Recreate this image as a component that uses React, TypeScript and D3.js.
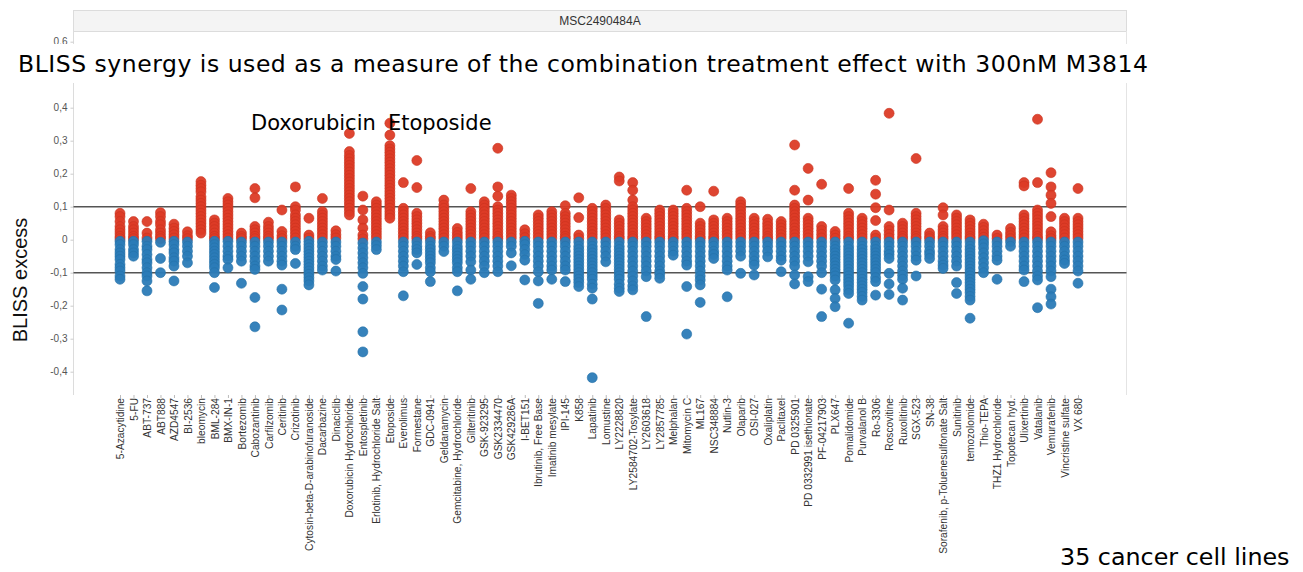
import * as d3 from "d3";
import React, { useEffect, useRef } from "react";

// drug names along the x axis
const drugs = [
  "5-Azacytidine", "5-FU", "ABT-737", "ABT888", "AZD4547", "BI-2536", "bleomycin", "BML-284", "BMX-IN-1",
  "Bortezomib", "Cabozantinib", "Carfilzomib", "Ceritinib", "Crizotinib", "Cytosin-beta-D-arabinofuranoside",
  "Dacarbazine", "Dinaciclib", "Doxorubicin Hydrochloride", "Entospletinib", "Erlotinib, Hydrochloride Salt",
  "Etoposide", "Everolimus", "Formestane", "GDC-0941", "Geldanamycin", "Gemcitabine, Hydrochloride",
  "Gilteritinib", "GSK-923295", "GSK2334470", "GSK429286A", "I-BET151", "Ibrutinib, Free Base",
  "Imatinib mesylate", "IPI-145", "K858", "Lapatinib", "Lomustine", "LY2228820", "LY2584702-Tosylate",
  "LY2603618", "LY2857785", "Melphalan", "Mitomycin C", "ML167", "NSC348884", "Nutlin-3", "Olaparib",
  "OSI-027", "Oxaliplatin", "Paclitaxel", "PD 0325901", "PD 0332991 isethionate", "PF-04217903", "PLX647",
  "Pomalidomide", "Purvalanol B", "Ro-3306", "Roscovitine", "Ruxolitinib", "SGX-523", "SN-38",
  "Sorafenib, p-Toluenesulfonate Salt", "Sunitinib", "temozolomide", "Thio-TEPA", "THZ1 Hydrochloride",
  "Topotecan hyd.", "Ulixertinib", "Vatalanib", "Vemurafenib", "Vincristine sulfate", "VX 680",
];

// BLISS excess per cell line, one list per drug
const bliss: number[][] = [
  [0.08, 0.07, 0.055, 0.04, 0.03, 0.02, 0.01, 0.003, -0.005, -0.015, -0.03, -0.04, -0.05, -0.06, -0.075, -0.085, -0.095, -0.11, -0.12],
  [0.055, 0.04, 0.03, 0.02, 0.01, 0.003, -0.005, -0.015, -0.03, -0.04, -0.05],
  [0.055, 0.02, 0.005, -0.005, -0.02, -0.03, -0.045, -0.06, -0.07, -0.085, -0.1, -0.11, -0.125, -0.155],
  [0.082, 0.07, 0.055, 0.045, 0.03, 0.02, 0.01, 0.003, -0.008, -0.057, -0.1],
  [0.047, 0.035, 0.025, 0.015, 0.005, -0.005, -0.015, -0.03, -0.04, -0.055, -0.065, -0.08, -0.125],
  [0.024, 0.012, 0.003, -0.007, -0.02, -0.035, -0.05, -0.07],
  [0.176, 0.165, 0.155, 0.145, 0.13, 0.12, 0.11, 0.1, 0.09, 0.08, 0.07, 0.06, 0.05, 0.04, 0.03, 0.02],
  [0.06, 0.05, 0.04, 0.03, 0.02, 0.01, 0.003, -0.005, -0.015, -0.025, -0.035, -0.045, -0.055, -0.065, -0.075, -0.085, -0.1, -0.145],
  [0.125, 0.115, 0.105, 0.095, 0.085, 0.075, 0.065, 0.055, 0.045, 0.035, 0.025, 0.015, 0.005, -0.005, -0.02, -0.035, -0.05, -0.06, -0.085],
  [0.02, 0.01, 0.003, -0.007, -0.02, -0.035, -0.05, -0.065, -0.132],
  [0.155, 0.127, 0.04, 0.03, 0.02, 0.01, 0.003, -0.007, -0.02, -0.035, -0.05, -0.065, -0.08, -0.09, -0.175, -0.264],
  [0.053, 0.04, 0.03, 0.02, 0.01, 0.003, -0.007, -0.02, -0.035, -0.05, -0.065],
  [0.09, 0.025, 0.012, 0.003, -0.007, -0.02, -0.035, -0.05, -0.065, -0.077, -0.15, -0.213],
  [0.16, 0.1, 0.09, 0.075, 0.065, 0.055, 0.045, 0.035, 0.025, 0.015, 0.005, -0.007, -0.02, -0.03, -0.072],
  [0.065, 0.014, 0.005, -0.005, -0.015, -0.025, -0.035, -0.045, -0.055, -0.065, -0.075, -0.085, -0.095, -0.105, -0.115, -0.125, -0.137],
  [0.125, 0.085, 0.075, 0.065, 0.055, 0.045, 0.035, 0.025, 0.015, 0.005, -0.007, -0.02, -0.035, -0.05, -0.065, -0.08, -0.092],
  [0.027, 0.015, 0.005, -0.007, -0.02, -0.035, -0.05, -0.06, -0.095],
  [0.322, 0.267, 0.255, 0.245, 0.235, 0.225, 0.215, 0.205, 0.195, 0.185, 0.175, 0.165, 0.155, 0.145, 0.135, 0.125, 0.115, 0.105, 0.095, 0.085, 0.075],
  [0.132, 0.09, 0.06, 0.035, 0.014, 0.003, -0.01, -0.025, -0.04, -0.055, -0.07, -0.085, -0.102, -0.142, -0.18, -0.279, -0.34],
  [0.115, 0.105, 0.095, 0.085, 0.075, 0.065, 0.055, 0.045, 0.035, 0.025, 0.015, 0.005, -0.007, -0.018, -0.03],
  [0.353, 0.317, 0.285, 0.275, 0.265, 0.255, 0.245, 0.235, 0.225, 0.215, 0.205, 0.195, 0.185, 0.175, 0.165, 0.155, 0.145, 0.135, 0.125, 0.115, 0.105, 0.095, 0.085, 0.075, 0.065],
  [0.173, 0.095, 0.085, 0.075, 0.065, 0.055, 0.045, 0.035, 0.025, 0.015, 0.005, -0.007, -0.02, -0.035, -0.05, -0.065, -0.08, -0.097, -0.17],
  [0.24, 0.158, 0.08, 0.07, 0.06, 0.05, 0.04, 0.03, 0.02, 0.01, 0.003, -0.007, -0.02, -0.03, -0.04, -0.075],
  [0.021, 0.01, 0.003, -0.007, -0.02, -0.03, -0.04, -0.05, -0.06, -0.07, -0.085, -0.097, -0.127],
  [0.12, 0.105, 0.095, 0.085, 0.075, 0.065, 0.055, 0.045, 0.035, 0.025, 0.015, 0.005, -0.007, -0.02, -0.036],
  [0.034, 0.022, 0.012, 0.003, -0.007, -0.02, -0.03, -0.04, -0.05, -0.06, -0.07, -0.085, -0.097, -0.155],
  [0.155, 0.085, 0.075, 0.065, 0.055, 0.045, 0.035, 0.025, 0.015, 0.005, -0.007, -0.02, -0.035, -0.05, -0.067, -0.092, -0.12],
  [0.115, 0.105, 0.095, 0.085, 0.075, 0.065, 0.055, 0.045, 0.035, 0.025, 0.015, 0.005, -0.007, -0.02, -0.035, -0.05, -0.065, -0.08, -0.1],
  [0.277, 0.16, 0.132, 0.1, 0.09, 0.08, 0.07, 0.06, 0.05, 0.04, 0.03, 0.02, 0.01, 0.003, -0.007, -0.02, -0.035, -0.05, -0.065, -0.08, -0.097],
  [0.135, 0.125, 0.115, 0.105, 0.095, 0.085, 0.075, 0.065, 0.055, 0.045, 0.035, 0.025, 0.015, 0.005, -0.007, -0.02, -0.04, -0.079],
  [0.03, 0.018, 0.006, -0.005, -0.015, -0.03, -0.045, -0.062, -0.122],
  [0.075, 0.065, 0.055, 0.045, 0.035, 0.025, 0.015, 0.005, -0.007, -0.02, -0.035, -0.05, -0.065, -0.08, -0.097, -0.125, -0.193],
  [0.085, 0.075, 0.065, 0.055, 0.045, 0.035, 0.025, 0.015, 0.005, -0.007, -0.02, -0.035, -0.05, -0.065, -0.08, -0.092, -0.12],
  [0.103, 0.08, 0.07, 0.06, 0.05, 0.04, 0.03, 0.02, 0.01, 0.003, -0.007, -0.02, -0.035, -0.05, -0.065, -0.08, -0.092, -0.127],
  [0.127, 0.067, 0.014, 0.004, -0.007, -0.02, -0.03, -0.04, -0.05, -0.06, -0.07, -0.08, -0.09, -0.1, -0.11, -0.12, -0.13, -0.142],
  [0.095, 0.085, 0.075, 0.065, 0.055, 0.045, 0.035, 0.025, 0.015, 0.005, -0.007, -0.02, -0.03, -0.04, -0.05, -0.06, -0.07, -0.08, -0.09, -0.1, -0.11, -0.12, -0.135, -0.147, -0.18, -0.418],
  [0.105, 0.095, 0.085, 0.075, 0.065, 0.055, 0.045, 0.035, 0.025, 0.015, 0.005, -0.007, -0.02, -0.035, -0.05, -0.067],
  [0.19, 0.178, 0.06, 0.05, 0.04, 0.03, 0.02, 0.01, 0.003, -0.007, -0.02, -0.03, -0.04, -0.05, -0.06, -0.07, -0.08, -0.09, -0.1, -0.11, -0.12, -0.135, -0.147, -0.157],
  [0.173, 0.15, 0.12, 0.1, 0.09, 0.08, 0.07, 0.06, 0.05, 0.04, 0.03, 0.02, 0.01, 0.003, -0.007, -0.02, -0.035, -0.05, -0.065, -0.08, -0.095, -0.11, -0.125, -0.14, -0.152],
  [0.065, 0.055, 0.045, 0.035, 0.025, 0.015, 0.005, -0.007, -0.02, -0.035, -0.05, -0.065, -0.08, -0.095, -0.112, -0.233],
  [0.09, 0.08, 0.07, 0.06, 0.05, 0.04, 0.03, 0.02, 0.01, 0.003, -0.007, -0.02, -0.035, -0.05, -0.065, -0.08, -0.095, -0.105, -0.117],
  [0.09, 0.08, 0.07, 0.06, 0.05, 0.04, 0.03, 0.02, 0.01, 0.003, -0.007, -0.02, -0.035, -0.047],
  [0.15, 0.095, 0.085, 0.075, 0.065, 0.055, 0.045, 0.035, 0.025, 0.015, 0.005, -0.007, -0.02, -0.035, -0.05, -0.065, -0.077, -0.142, -0.286],
  [0.1, 0.05, 0.04, 0.03, 0.02, 0.01, 0.003, -0.007, -0.02, -0.035, -0.05, -0.065, -0.08, -0.095, -0.11, -0.122, -0.137, -0.19],
  [0.147, 0.06, 0.05, 0.04, 0.03, 0.02, 0.01, 0.003, -0.007, -0.02, -0.035, -0.045, -0.057],
  [0.065, 0.055, 0.045, 0.035, 0.025, 0.015, 0.005, -0.007, -0.02, -0.035, -0.05, -0.065, -0.08, -0.092, -0.173],
  [0.115, 0.105, 0.095, 0.085, 0.075, 0.065, 0.055, 0.045, 0.035, 0.025, 0.015, 0.005, -0.007, -0.02, -0.035, -0.05, -0.102],
  [0.065, 0.055, 0.045, 0.035, 0.025, 0.015, 0.005, -0.007, -0.02, -0.035, -0.05, -0.065, -0.077, -0.107],
  [0.062, 0.05, 0.04, 0.03, 0.02, 0.01, 0.003, -0.007, -0.02, -0.035, -0.052],
  [0.055, 0.045, 0.035, 0.025, 0.015, 0.005, -0.007, -0.02, -0.035, -0.05, -0.062, -0.097],
  [0.287, 0.15, 0.105, 0.095, 0.085, 0.075, 0.065, 0.055, 0.045, 0.035, 0.025, 0.015, 0.005, -0.007, -0.02, -0.035, -0.05, -0.065, -0.08, -0.107, -0.134],
  [0.216, 0.12, 0.065, 0.055, 0.045, 0.035, 0.025, 0.015, 0.005, -0.007, -0.02, -0.035, -0.05, -0.067, -0.112, -0.127],
  [0.168, 0.04, 0.028, 0.016, 0.005, -0.007, -0.02, -0.035, -0.05, -0.065, -0.08, -0.1, -0.15, -0.233],
  [0.025, 0.014, 0.004, -0.007, -0.02, -0.03, -0.04, -0.05, -0.06, -0.07, -0.08, -0.09, -0.1, -0.11, -0.122, -0.152, -0.178, -0.203],
  [0.155, 0.08, 0.07, 0.06, 0.05, 0.04, 0.03, 0.02, 0.01, 0.003, -0.007, -0.02, -0.03, -0.04, -0.05, -0.06, -0.07, -0.08, -0.09, -0.1, -0.11, -0.12, -0.13, -0.14, -0.152, -0.163, -0.253],
  [0.065, 0.055, 0.045, 0.035, 0.025, 0.015, 0.005, -0.007, -0.02, -0.03, -0.04, -0.05, -0.06, -0.07, -0.08, -0.09, -0.1, -0.11, -0.12, -0.13, -0.14, -0.15, -0.16, -0.172, -0.183],
  [0.18, 0.138, 0.097, 0.058, 0.014, 0.004, -0.007, -0.02, -0.03, -0.04, -0.05, -0.06, -0.07, -0.08, -0.09, -0.1, -0.115, -0.127, -0.168],
  [0.383, 0.09, 0.04, 0.028, 0.016, 0.005, -0.007, -0.02, -0.035, -0.045, -0.057, -0.102, -0.134, -0.166],
  [0.05, 0.04, 0.03, 0.02, 0.01, 0.003, -0.007, -0.02, -0.035, -0.05, -0.065, -0.08, -0.095, -0.108, -0.12, -0.147, -0.183],
  [0.246, 0.08, 0.07, 0.06, 0.05, 0.04, 0.03, 0.02, 0.01, 0.003, -0.007, -0.02, -0.035, -0.05, -0.062, -0.11],
  [0.02, 0.01, 0.003, -0.007, -0.02, -0.035, -0.045, -0.057],
  [0.097, 0.075, 0.04, 0.03, 0.02, 0.01, 0.003, -0.007, -0.02, -0.035, -0.05, -0.065, -0.077, -0.087],
  [0.075, 0.065, 0.055, 0.045, 0.035, 0.025, 0.015, 0.005, -0.007, -0.02, -0.035, -0.05, -0.065, -0.08, -0.13, -0.163],
  [0.06, 0.05, 0.04, 0.03, 0.02, 0.01, 0.003, -0.007, -0.02, -0.03, -0.04, -0.05, -0.06, -0.07, -0.08, -0.09, -0.1, -0.11, -0.12, -0.13, -0.14, -0.15, -0.16, -0.172, -0.183, -0.238],
  [0.047, 0.037, 0.027, 0.017, 0.007, -0.003, -0.013, -0.025, -0.04, -0.055, -0.07, -0.085, -0.1],
  [0.014, 0.004, -0.007, -0.02, -0.035, -0.05, -0.062, -0.12],
  [0.034, 0.022, 0.012, 0.003, -0.007, -0.02],
  [0.173, 0.163, 0.075, 0.065, 0.055, 0.045, 0.035, 0.025, 0.015, 0.005, -0.007, -0.02, -0.035, -0.05, -0.065, -0.08, -0.092, -0.127],
  [0.365, 0.173, 0.09, 0.08, 0.07, 0.06, 0.05, 0.04, 0.03, 0.02, 0.01, 0.003, -0.007, -0.02, -0.035, -0.05, -0.065, -0.08, -0.095, -0.11, -0.122, -0.206],
  [0.203, 0.16, 0.135, 0.11, 0.07, 0.024, 0.012, 0.003, -0.007, -0.02, -0.035, -0.05, -0.065, -0.08, -0.095, -0.112, -0.15, -0.173, -0.195],
  [0.065, 0.055, 0.045, 0.035, 0.025, 0.015, 0.005, -0.007, -0.02, -0.035, -0.05, -0.062, -0.072],
  [0.155, 0.065, 0.055, 0.045, 0.035, 0.025, 0.015, 0.005, -0.007, -0.02, -0.035, -0.05, -0.065, -0.08, -0.095, -0.132],
];

// 0,5 sits under the title banner in the original, so it is left out
const yTicks = [0.6, 0.4, 0.3, 0.2, 0.1, 0, -0.1, -0.2, -0.3, -0.4];
const thresholds = [0.1, -0.1];

const W = 1303;
const H = 572;

const App: React.FC = () => {
  const svgRef = useRef<SVGSVGElement | null>(null);

  useEffect(() => {
    const svg = d3.select(svgRef.current);
    svg.selectAll("*").remove();

    const left = 73.5;
    const right = 1126.5;
    const top = 31;
    const bottom = 395;

    const x = d3.scalePoint<string>().domain(drugs).range([120, 1078]);
    const y = d3.scaleLinear().domain([-0.4, 0.4]).range([371.7, 107.7]);

    // header strip
    svg.append("rect")
      .attr("x", left).attr("y", 10.5)
      .attr("width", right - left).attr("height", 21)
      .attr("fill", "#f4f4f4").attr("stroke", "#dcdcdc");
    svg.append("text")
      .attr("x", (left + right) / 2).attr("y", 25)
      .attr("text-anchor", "middle")
      .attr("font-family", "Liberation Sans, Arial, sans-serif")
      .attr("font-size", 12).attr("fill", "#333")
      .text("MSC2490484A");

    // frame
    svg.append("line").attr("x1", left).attr("x2", left).attr("y1", top).attr("y2", bottom).attr("stroke", "#dcdcdc");
    svg.append("line").attr("x1", right).attr("x2", right).attr("y1", top).attr("y2", bottom).attr("stroke", "#e4e4e4");

    // y axis
    const yAxis = svg.append("g").attr("transform", `translate(${left},0)`)
      .call(d3.axisLeft(y).tickValues(yTicks).tickSize(3).tickPadding(3)
        .tickFormat((d) => (d === 0 ? "0" : d3.format(".1f")(d as number).replace(".", ",").replace("−", "-"))));
    yAxis.select(".domain").remove();
    yAxis.selectAll("line").attr("stroke", "#ccc");
    yAxis.selectAll("text").attr("font-family", "Liberation Sans, Arial, sans-serif").attr("font-size", 10).attr("fill", "#555");

    svg.append("text")
      .attr("transform", `translate(27,280) rotate(-90)`)
      .attr("text-anchor", "middle")
      .attr("font-family", "Liberation Sans, Arial, sans-serif")
      .attr("font-size", 20).attr("fill", "#111")
      .text("BLISS excess");

    // x axis labels
    const xAxis = svg.append("g").attr("transform", `translate(0,${bottom})`)
      .call(d3.axisBottom(x).tickSize(3).tickPadding(2));
    xAxis.select(".domain").remove();
    xAxis.selectAll("line").attr("stroke", "#bbb");
    xAxis.selectAll("text")
      .attr("font-family", "Liberation Sans, Arial, sans-serif")
      .attr("font-size", 10.2).attr("fill", "#333")
      .attr("text-anchor", "end")
      .attr("dy", "0.35em")
      .attr("transform", "translate(0,3) rotate(-90)")
      .attr("x", 0).attr("y", 0);

    // threshold lines
    svg.append("g").selectAll("line").data(thresholds).join("line")
      .attr("x1", left).attr("x2", right)
      .attr("y1", (d) => y(d)).attr("y2", (d) => y(d))
      .attr("stroke", "#555").attr("stroke-width", 1.5);

    // points
    const pts = drugs.flatMap((name, i) => bliss[i].map((v) => ({ name, v })));
    svg.append("g").selectAll("circle").data(pts).join("circle")
      .attr("cx", (d) => x(d.name)!)
      .attr("cy", (d) => y(d.v))
      .attr("r", 5)
      .attr("fill", (d) => (d.v > 0 ? "#dc3b26" : "#2b7bb7"))
      .attr("stroke", (d) => (d.v > 0 ? "#c9321f" : "#2470a8"))
      .attr("stroke-width", 0.6)
      .attr("fill-opacity", 0.95);

    // title with white backing over the chart
    svg.append("rect").attr("x", 8).attr("y", 44).attr("width", 1152).attr("height", 39).attr("fill", "#fff");
    svg.append("text")
      .attr("x", 18).attr("y", 72)
      .attr("font-family", "DejaVu Sans, Verdana, sans-serif")
      .attr("font-size", 23.5).attr("fill", "#000")
      .attr("textLength", 1130).attr("lengthAdjust", "spacing")
      .text("BLISS synergy is used as a measure of the combination treatment effect with 300nM M3814");

    const ann = svg.append("g")
      .attr("font-family", "DejaVu Sans, Verdana, sans-serif")
      .attr("font-size", 21).attr("fill", "#000");
    ann.append("text").attr("x", 251).attr("y", 130).text("Doxorubicin");
    ann.append("text").attr("x", 388).attr("y", 130).text("Etoposide");

    svg.append("text")
      .attr("x", 1060).attr("y", 565)
      .attr("font-family", "DejaVu Sans, Verdana, sans-serif")
      .attr("font-size", 23.8).attr("fill", "#000")
      .text("35 cancer cell lines");
  }, []);

  return (
    <svg
      ref={svgRef}
      width={W}
      height={H}
      style={{ position: "absolute", left: 0, top: 0, background: "#fff" }}
    />
  );
};

export default App;
